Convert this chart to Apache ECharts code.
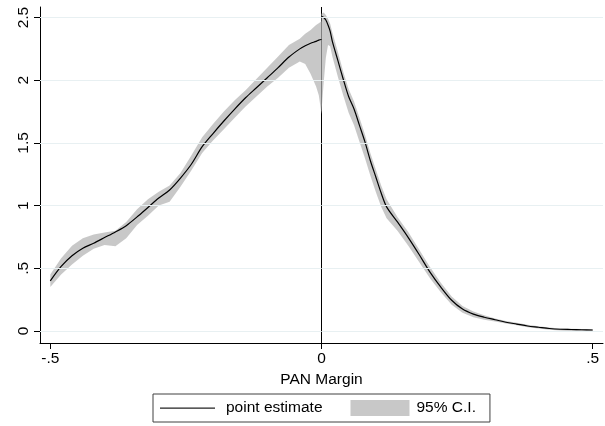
<!DOCTYPE html>
<html><head><meta charset="utf-8">
<script src="https://cdn.jsdelivr.net/npm/echarts@6/dist/echarts.min.js"></script>
<style>html,body{margin:0;padding:0;background:#fff}#c{width:605px;height:426px}</style>
</head><body><div id="c"></div>
<script>
// ---- data ----
const cutoff = [0];
const xTicks = [-0.5, 0, 0.5];
const yTicks = [0, 0.5, 1, 1.5, 2, 2.5];
const xRange = [-0.519, 0.519];
const yRange = [-0.0957, 2.584];

const xLeft   = [-0.5,-0.48,-0.46,-0.44,-0.42,-0.40,-0.38,-0.36,-0.34,-0.32,-0.30,-0.28,-0.26,-0.24,-0.22,-0.20,-0.18,-0.16,-0.14,-0.12,-0.10,-0.08,-0.06,-0.04,-0.03,-0.02,-0.01,-0.005,0];
const estLeft = [0.40,0.515,0.60,0.66,0.70,0.745,0.79,0.84,0.91,0.985,1.06,1.125,1.22,1.33,1.47,1.575,1.675,1.77,1.86,1.94,2.02,2.10,2.185,2.25,2.275,2.295,2.31,2.32,2.325];
const upLeft  = [0.45,0.58,0.68,0.74,0.77,0.785,0.80,0.87,0.97,1.05,1.11,1.16,1.26,1.40,1.545,1.65,1.75,1.84,1.92,2.01,2.10,2.19,2.28,2.33,2.37,2.40,2.44,2.455,2.47];
const loLeft  = [0.35,0.45,0.53,0.60,0.655,0.685,0.675,0.74,0.845,0.92,1.00,1.03,1.15,1.28,1.42,1.52,1.61,1.70,1.79,1.87,1.95,2.02,2.10,2.15,2.13,2.05,1.95,1.88,1.73];

const xRight   = [0,0.004,0.008,0.012,0.016,0.02,0.03,0.04,0.05,0.06,0.07,0.08,0.09,0.10,0.11,0.12,0.14,0.16,0.18,0.20,0.22,0.24,0.26,0.28,0.30,0.32,0.34,0.36,0.38,0.40,0.42,0.44,0.46,0.48,0.50];
const estRight = [2.51,2.50,2.48,2.44,2.39,2.31,2.16,2.01,1.87,1.77,1.64,1.51,1.36,1.23,1.10,0.99,0.87,0.745,0.61,0.47,0.35,0.245,0.175,0.135,0.11,0.09,0.07,0.055,0.04,0.03,0.02,0.014,0.012,0.01,0.008];
const upRight  = [2.53,2.54,2.52,2.49,2.45,2.38,2.23,2.07,1.93,1.83,1.70,1.57,1.42,1.29,1.16,1.05,0.91,0.79,0.65,0.51,0.385,0.275,0.20,0.155,0.125,0.10,0.08,0.065,0.05,0.038,0.027,0.02,0.017,0.015,0.013];
const loRight  = [1.75,1.98,2.18,2.28,2.27,2.19,2.03,1.88,1.74,1.64,1.51,1.38,1.24,1.11,0.99,0.90,0.80,0.68,0.55,0.42,0.31,0.21,0.145,0.11,0.09,0.075,0.06,0.045,0.03,0.02,0.01,0.004,0.0,-0.005,-0.008];

const FONT = '"Liberation Sans", Arial, Helvetica, sans-serif';
const BAND = 'rgba(190,190,190,0.84)';
const fmt = v => String(v).replace(/^(-?)0\./, '$1.');

function band(xs, up, lo) {
  return {
    type: 'custom', name: '95% C.I.', z: 2, silent: true,
    itemStyle: { color: '#c8c8c8' },
    data: [[xs[0], up[0]]],
    encode: { x: 0, y: 1 },
    renderItem: (params, api) => {
      const pts = [];
      for (let i = 0; i < xs.length; i++) pts.push(api.coord([xs[i], up[i]]));
      for (let i = xs.length - 1; i >= 0; i--) pts.push(api.coord([xs[i], lo[i]]));
      return { type: 'polygon', shape: { points: pts },
               style: { fill: BAND, stroke: null } };
    }
  };
}
function est(xs, ys) {
  return {
    type: 'line', name: 'point estimate', z: 3, silent: true,
    data: xs.map((x, i) => [x, ys[i]]),
    symbol: 'none', showSymbol: false, smooth: 0.3,
    lineStyle: { color: '#000', width: 1.2 }, itemStyle: { color: '#000' }
  };
}

const chart = echarts.init(document.getElementById('c'), null, { renderer: 'canvas' });
chart.setOption({
  animation: false,
  backgroundColor: '#fff',
  grid: { left: 40, right: 2, top: 7, bottom: 83, containLabel: false, outerBoundsMode: 'none' },
  xAxis: {
    type: 'value', min: xRange[0], max: xRange[1],
    name: 'PAN Margin', nameLocation: 'middle', nameGap: 24,
    nameTextStyle: { fontSize: 15.5, color: '#000', fontFamily: FONT },
    axisLine: { show: true, onZero: false, lineStyle: { color: '#000', width: 1 } },
    axisTick: { show: true, length: 6, customValues: xTicks, lineStyle: { color: '#000' } },
    axisLabel: { customValues: xTicks, formatter: fmt, fontSize: 15.5, color: '#000', fontFamily: FONT, margin: 8 },
    splitLine: { show: false }
  },
  yAxis: {
    type: 'value', min: yRange[0], max: yRange[1],
    axisLine: { show: true, onZero: false, lineStyle: { color: '#000', width: 1 } },
    axisTick: { show: true, length: 6, customValues: yTicks, lineStyle: { color: '#000' } },
    axisLabel: { customValues: yTicks, formatter: fmt, rotate: 90, fontSize: 15.5, color: '#000', fontFamily: FONT, margin: 8 },
    splitLine: { show: false }
  },
  legend: {
    data: [
      { name: 'point estimate', icon: 'path://M0,0 M61,16 M0,7.5 L55,7.5 L55,8.7 L0,8.7 Z', itemStyle: { color: '#222' } },
      { name: '95% C.I.', icon: 'path://M0,0 M61,16 M0,0 L59,0 L59,16 L0,16 Z' }
    ],
    left: 153, top: 394, orient: 'horizontal', selectedMode: false,
    itemWidth: 61, itemHeight: 16, itemGap: 28,
    padding: [6, 14, 6, 7],
    borderColor: '#404040', borderWidth: 1, borderRadius: 0,
    textStyle: { fontSize: 15.5, color: '#000', fontFamily: FONT }
  },
  series: [
    {
      type: 'line', name: 'cutoff', z: 1, silent: true,
      data: [[cutoff[0], yRange[0]], [cutoff[0], yRange[1]]],
      symbol: 'none', lineStyle: { color: '#000', width: 1 },
      markLine: {
        silent: true, symbol: 'none', label: { show: false },
        lineStyle: { color: '#e8f0f2', width: 1, type: 'solid' },
        data: yTicks.map(v => ({ yAxis: v }))
      }
    },
    band(xLeft, upLeft, loLeft),
    band(xRight, upRight, loRight),
    est(xLeft, estLeft),
    est(xRight, estRight)
  ]
});
</script></body></html>
